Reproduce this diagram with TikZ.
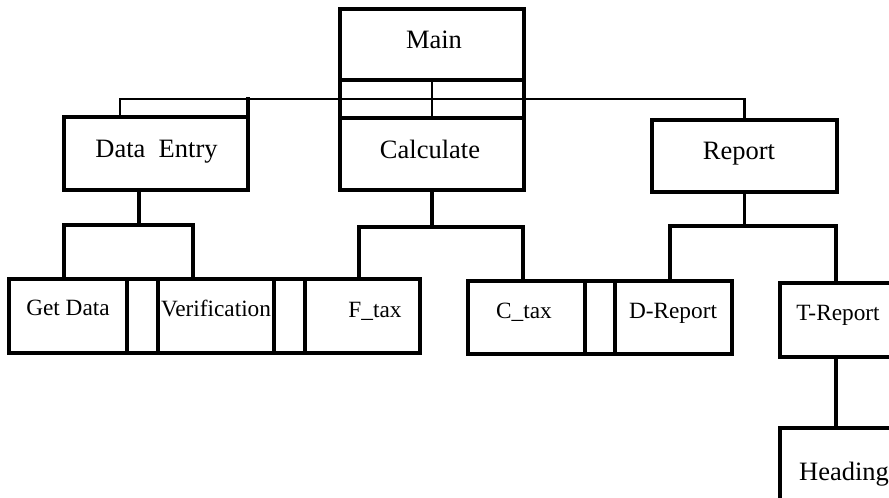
\documentclass[tikz,border=0pt]{standalone}
\usepackage{fontspec}
\setmainfont{Liberation Serif}
\begin{document}
\begin{tikzpicture}[x=1pt,y=-1pt,
  box/.style={draw, line width=3.1pt, inner sep=0pt, outer sep=0pt, anchor=north west},
  wire/.style={line width=3.1pt, line cap=rect},
  thinwire/.style={line width=2.3pt, line cap=rect},
  big/.style={anchor=base, inner sep=0pt, font=\fontsize{26.5}{30}\selectfont},
  small/.style={anchor=base, inner sep=0pt, font=\fontsize{23.3}{27}\selectfont}]
\useasboundingbox (0,0) rectangle (889,498);
\clip (0,0) rectangle (889,498);

% top level modules
\node[box, minimum width=184, minimum height=71] (main) at (340,9) {};
\node[box, minimum width=184, minimum height=72] (calc) at (340,118) {};
\node[box, minimum width=184, minimum height=73] (de)   at (64,117) {};
\node[box, minimum width=185, minimum height=72] (rep)  at (652,120) {};

% first row of leaf modules
\node[box, minimum width=118, minimum height=74] (gd)   at (9,279) {};
\node[box, minimum width=31,  minimum height=74] (gapA) at (127,279) {};
\node[box, minimum width=116, minimum height=74] (ver)  at (158,279) {};
\node[box, minimum width=31,  minimum height=74] (gapB) at (274,279) {};
\node[box, minimum width=115, minimum height=74] (ftax) at (305,279) {};

% second row of leaf modules
\node[box, minimum width=117, minimum height=73] (ctax) at (468,281) {};
\node[box, minimum width=30,  minimum height=73] (gapC) at (585,281) {};
\node[box, minimum width=117, minimum height=73] (drep) at (615,281) {};
\node[box, minimum width=130, minimum height=74] (trep) at (780,283) {};
\node[box, minimum width=130, minimum height=90] (head) at (780,428) {};

% labels
\node[big]   (tMain) at (434,48)  {Main};
\node[big]   (tCalc) at (430,158) {Calculate};
\node[big]   (tDE)   at (156.5,157) {Data\ \ Entry};
\node[big]   (tRep)  at (739,159) {Report};
\node[small] (tGD)   at (68,315)  {Get Data};
\node[small] (tVer)  at (216,316) {Verification};
\node[small] (tF)    at (375,317) {F\_tax};
\node[small] (tC)    at (524,318) {C\_tax};
\node[small] (tD)    at (673,318) {D-Report};
\node[small] (tT)    at (838,320) {T-Report};
\node[big]   (tH)    at (844,480) {Heading};

% junction points
\coordinate (busL) at (120,99);
\coordinate (deJ)  at (139,225);
\coordinate (deL)  at (64,225);
\coordinate (deR)  at (193,225);
\coordinate (caL)  at (359,227);
\coordinate (caR)  at (523,227);
\coordinate (rpL)  at (670,226);
\coordinate (rpR)  at (836,226);

% main to calculate
\draw[wire] (main.south west) -- (calc.north west);
\draw[wire] (main.south east) -- (calc.north east);
\draw[thinwire] (main.south) -- (calc.north);

% bus from main to data entry and report
\draw[thinwire] (de.north -| busL) -- (busL) -- (rep.north |- busL) -- (rep.north);
\draw[wire] (de.north east) -- (de.north east |- busL);

% data entry branch
\draw[wire] (de.south -| deJ) -- (deJ);
\draw[wire] (gd.north -| deL) -- (deL) -- (deR) -- (ver.north -| deR);

% calculate branch
\draw[wire] (calc.south) -- (calc.south |- caL);
\draw[wire] (ftax.north -| caL) -- (caL) -- (caR) -- (ctax.north -| caR);

% report branch
\draw[wire] (rep.south) -- (rep.south |- rpL);
\draw[wire] (drep.north -| rpL) -- (rpL) -- (rpR) -- (trep.north -| rpR);
\draw[wire] (trep.south -| rpR) -- (head.north -| rpR);
\end{tikzpicture}
\end{document}
